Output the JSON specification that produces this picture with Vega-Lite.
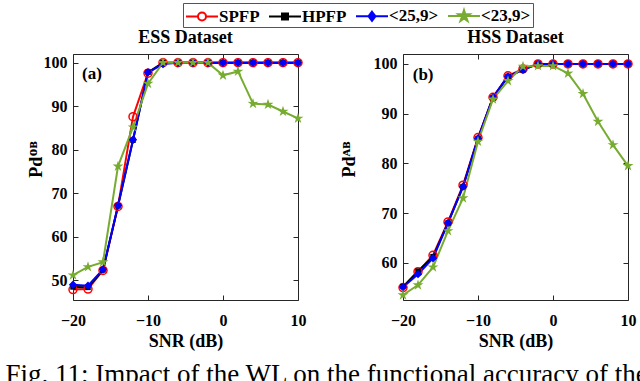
{
 "$schema": "https://vega.github.io/schema/vega-lite/v6.json",
 "background": "white",
 "padding": {"left": 5, "top": 2, "right": 0, "bottom": 0},
 "config": {
  "font": "Liberation Serif",
  "view": {"stroke": "#262626", "strokeWidth": 1},
  "axis": {"labelFont": "Liberation Serif", "labelFontSize": 16, "labelFontWeight": "bold", "labelColor": "black", "labelFlush": false, "titleFont": "Liberation Serif", "titleFontSize": 18, "titleFontWeight": "bold", "titleColor": "black", "domain": false, "grid": false, "tickColor": "#262626", "tickSize": -5},
  "title": {"font": "Liberation Serif", "fontSize": 18, "fontWeight": "bold", "color": "black", "offset": 7},
  "legend": {"orient": "none", "legendX": 110, "legendY": -51, "direction": "horizontal", "title": null, "labelFont": "Liberation Serif", "labelFontSize": 17, "labelFontWeight": "bold", "labelColor": "black", "symbolSize": 400, "symbolStrokeWidth": 2, "labelOffset": 12, "columnPadding": 5, "padding": 2, "strokeColor": "#555555", "fillColor": "white"}
 },
 "datasets": {
  "ess": [
   {"snr": -20, "s": "SPFP", "v": 47.9}, {"snr": -18, "s": "SPFP", "v": 48.0}, {"snr": -16, "s": "SPFP", "v": 52.3}, {"snr": -14, "s": "SPFP", "v": 67.0}, {"snr": -12, "s": "SPFP", "v": 87.6}, {"snr": -10, "s": "SPFP", "v": 97.6}, {"snr": -8, "s": "SPFP", "v": 100}, {"snr": -6, "s": "SPFP", "v": 100}, {"snr": -4, "s": "SPFP", "v": 100}, {"snr": -2, "s": "SPFP", "v": 100}, {"snr": 0, "s": "SPFP", "v": 100}, {"snr": 2, "s": "SPFP", "v": 100}, {"snr": 4, "s": "SPFP", "v": 100}, {"snr": 6, "s": "SPFP", "v": 100}, {"snr": 8, "s": "SPFP", "v": 100}, {"snr": 10, "s": "SPFP", "v": 100},
   {"snr": -20, "s": "HPFP", "v": 48.5}, {"snr": -18, "s": "HPFP", "v": 48.4}, {"snr": -16, "s": "HPFP", "v": 52.4}, {"snr": -14, "s": "HPFP", "v": 67.1}, {"snr": -12, "s": "HPFP", "v": 82.2}, {"snr": -10, "s": "HPFP", "v": 97.8}, {"snr": -8, "s": "HPFP", "v": 100}, {"snr": -6, "s": "HPFP", "v": 100}, {"snr": -4, "s": "HPFP", "v": 100}, {"snr": -2, "s": "HPFP", "v": 100}, {"snr": 0, "s": "HPFP", "v": 100}, {"snr": 2, "s": "HPFP", "v": 100}, {"snr": 4, "s": "HPFP", "v": 100}, {"snr": 6, "s": "HPFP", "v": 100}, {"snr": 8, "s": "HPFP", "v": 100}, {"snr": 10, "s": "HPFP", "v": 100},
   {"snr": -20, "s": "<25,9>", "v": 49.0}, {"snr": -18, "s": "<25,9>", "v": 48.8}, {"snr": -16, "s": "<25,9>", "v": 52.5}, {"snr": -14, "s": "<25,9>", "v": 67.2}, {"snr": -12, "s": "<25,9>", "v": 82.3}, {"snr": -10, "s": "<25,9>", "v": 97.8}, {"snr": -8, "s": "<25,9>", "v": 99.7}, {"snr": -6, "s": "<25,9>", "v": 100}, {"snr": -4, "s": "<25,9>", "v": 100}, {"snr": -2, "s": "<25,9>", "v": 100}, {"snr": 0, "s": "<25,9>", "v": 100}, {"snr": 2, "s": "<25,9>", "v": 100}, {"snr": 4, "s": "<25,9>", "v": 100}, {"snr": 6, "s": "<25,9>", "v": 100}, {"snr": 8, "s": "<25,9>", "v": 100}, {"snr": 10, "s": "<25,9>", "v": 100},
   {"snr": -20, "s": "<23,9>", "v": 51.2}, {"snr": -18, "s": "<23,9>", "v": 53.1}, {"snr": -16, "s": "<23,9>", "v": 54.2}, {"snr": -14, "s": "<23,9>", "v": 76.2}, {"snr": -12, "s": "<23,9>", "v": 85.2}, {"snr": -10, "s": "<23,9>", "v": 95.2}, {"snr": -8, "s": "<23,9>", "v": 100}, {"snr": -6, "s": "<23,9>", "v": 100}, {"snr": -4, "s": "<23,9>", "v": 100}, {"snr": -2, "s": "<23,9>", "v": 100}, {"snr": 0, "s": "<23,9>", "v": 97.1}, {"snr": 2, "s": "<23,9>", "v": 98.0}, {"snr": 4, "s": "<23,9>", "v": 90.6}, {"snr": 6, "s": "<23,9>", "v": 90.4}, {"snr": 8, "s": "<23,9>", "v": 88.8}, {"snr": 10, "s": "<23,9>", "v": 87.2}
  ],
  "hss": [
   {"snr": -20, "s": "SPFP", "v": 55.0}, {"snr": -18, "s": "SPFP", "v": 58.2}, {"snr": -16, "s": "SPFP", "v": 61.5}, {"snr": -14, "s": "SPFP", "v": 68.2}, {"snr": -12, "s": "SPFP", "v": 75.6}, {"snr": -10, "s": "SPFP", "v": 85.2}, {"snr": -8, "s": "SPFP", "v": 93.3}, {"snr": -6, "s": "SPFP", "v": 97.6}, {"snr": -4, "s": "SPFP", "v": 99.0}, {"snr": -2, "s": "SPFP", "v": 100}, {"snr": 0, "s": "SPFP", "v": 100}, {"snr": 2, "s": "SPFP", "v": 100}, {"snr": 4, "s": "SPFP", "v": 100}, {"snr": 6, "s": "SPFP", "v": 100}, {"snr": 8, "s": "SPFP", "v": 100}, {"snr": 10, "s": "SPFP", "v": 100},
   {"snr": -20, "s": "HPFP", "v": 55.2}, {"snr": -18, "s": "HPFP", "v": 58.3}, {"snr": -16, "s": "HPFP", "v": 61.2}, {"snr": -14, "s": "HPFP", "v": 68.0}, {"snr": -12, "s": "HPFP", "v": 75.3}, {"snr": -10, "s": "HPFP", "v": 85.0}, {"snr": -8, "s": "HPFP", "v": 93.2}, {"snr": -6, "s": "HPFP", "v": 97.5}, {"snr": -4, "s": "HPFP", "v": 98.8}, {"snr": -2, "s": "HPFP", "v": 100}, {"snr": 0, "s": "HPFP", "v": 100}, {"snr": 2, "s": "HPFP", "v": 100}, {"snr": 4, "s": "HPFP", "v": 100}, {"snr": 6, "s": "HPFP", "v": 100}, {"snr": 8, "s": "HPFP", "v": 100}, {"snr": 10, "s": "HPFP", "v": 100},
   {"snr": -20, "s": "<25,9>", "v": 55.1}, {"snr": -18, "s": "<25,9>", "v": 57.7}, {"snr": -16, "s": "<25,9>", "v": 60.9}, {"snr": -14, "s": "<25,9>", "v": 68.0}, {"snr": -12, "s": "<25,9>", "v": 75.3}, {"snr": -10, "s": "<25,9>", "v": 85.0}, {"snr": -8, "s": "<25,9>", "v": 93.3}, {"snr": -6, "s": "<25,9>", "v": 97.5}, {"snr": -4, "s": "<25,9>", "v": 98.8}, {"snr": -2, "s": "<25,9>", "v": 100}, {"snr": 0, "s": "<25,9>", "v": 100}, {"snr": 2, "s": "<25,9>", "v": 100}, {"snr": 4, "s": "<25,9>", "v": 100}, {"snr": 6, "s": "<25,9>", "v": 100}, {"snr": 8, "s": "<25,9>", "v": 100}, {"snr": 10, "s": "<25,9>", "v": 100},
   {"snr": -20, "s": "<23,9>", "v": 53.5}, {"snr": -18, "s": "<23,9>", "v": 55.5}, {"snr": -16, "s": "<23,9>", "v": 59.1}, {"snr": -14, "s": "<23,9>", "v": 66.4}, {"snr": -12, "s": "<23,9>", "v": 73.0}, {"snr": -10, "s": "<23,9>", "v": 84.4}, {"snr": -8, "s": "<23,9>", "v": 92.9}, {"snr": -6, "s": "<23,9>", "v": 96.6}, {"snr": -4, "s": "<23,9>", "v": 99.5}, {"snr": -2, "s": "<23,9>", "v": 99.6}, {"snr": 0, "s": "<23,9>", "v": 99.6}, {"snr": 2, "s": "<23,9>", "v": 98.1}, {"snr": 4, "s": "<23,9>", "v": 94.0}, {"snr": 6, "s": "<23,9>", "v": 88.4}, {"snr": 8, "s": "<23,9>", "v": 83.7}, {"snr": 10, "s": "<23,9>", "v": 79.5}
  ]
 },
 "title": {"text": "Fig. 11: Impact of the WL on the functional accuracy of the", "orient": "bottom", "anchor": "start", "fontSize": 27, "fontWeight": "normal", "font": "Liberation Serif", "color": "black", "offset": 11, "dx": -21},
 "spacing": 32,
 "resolve": {"scale": {"stroke": "shared"}, "legend": {"stroke": "shared"}},
 "hconcat": [
  {
   "title": "ESS Dataset",
   "width": 225, "height": 246,
   "data": {"name": "ess"},
   "resolve": {"axis": {"x": "independent", "y": "independent"}},
   "layer": [
    {
     "mark": {"type": "line", "strokeWidth": 2},
     "encoding": {
      "x": {"field": "snr", "type": "quantitative", "scale": {"domain": [-20, 10], "nice": false, "zero": false}, "axis": {"values": [-20, -10, 0, 10], "title": "SNR (dB)", "labelPadding": 17, "titlePadding": 4}},
      "y": {"field": "v", "type": "quantitative", "scale": {"domain": [45.5, 102], "nice": false, "zero": false}, "axis": {"values": [50, 60, 70, 80, 90, 100], "title": "Pdᴼᴮ", "labelPadding": 11, "titlePadding": -2, "titleY": 105}},
      "stroke": {"field": "s", "type": "nominal", "scale": {"domain": ["SPFP", "HPFP", "<25,9>", "<23,9>"], "range": ["#FF0000", "#000000", "#0000FF", "#77AC30"]},
       "legend": {
        "encode": {"symbols": {"update": {
         "shape": {"signal": "datum.value === 'SPFP' ? 'M-1,0H0.2M1,0H2.2M0.2,0A0.4,0.4 0 1,1 1,0A0.4,0.4 0 1,1 0.2,0Z' : datum.value === 'HPFP' ? 'M-1,0H2.2M0.3,-0.3H0.9V0.3H0.3Z' : datum.value === '<25,9>' ? 'M-1,0H2.2M0.6,-0.45L0.95,0L0.6,0.45L0.25,0Z' : 'M-1,0H2.2M0.6,-0.6L0.734,-0.1844L1.1707,-0.1854L0.8168,0.0704L0.9527,0.4854L0.6,0.228L0.2473,0.4854L0.3832,0.0704L0.0293,-0.1854L0.466,-0.1844Z'"},
         "fill": {"signal": "datum.value === 'SPFP' ? '#ffffff' : datum.value === 'HPFP' ? '#000000' : datum.value === '<25,9>' ? '#0000FF' : '#77AC30'"},
         "stroke": {"signal": "datum.value === 'SPFP' ? '#FF0000' : datum.value === 'HPFP' ? '#000000' : datum.value === '<25,9>' ? '#0000FF' : '#77AC30'"},
         "opacity": {"value": 1}}}}}}
     }
    },
    {
     "transform": [{"filter": "datum.s === 'SPFP'"}],
     "mark": {"type": "point", "shape": "circle", "size": 64, "filled": false, "color": "#FF0000", "strokeWidth": 1.5, "opacity": 1},
     "encoding": {"x": {"field": "snr", "type": "quantitative", "scale": {"domain": [-20, 10], "nice": false, "zero": false}, "axis": null}, "y": {"field": "v", "type": "quantitative", "scale": {"domain": [45.5, 102], "nice": false, "zero": false}, "axis": null}}
    },
    {
     "transform": [{"filter": "datum.s === 'HPFP'"}],
     "mark": {"type": "point", "shape": "square", "size": 30, "filled": true, "color": "#000000", "opacity": 1},
     "encoding": {"x": {"field": "snr", "type": "quantitative", "scale": {"domain": [-20, 10], "nice": false, "zero": false}, "axis": null}, "y": {"field": "v", "type": "quantitative", "scale": {"domain": [45.5, 102], "nice": false, "zero": false}, "axis": null}}
    },
    {
     "transform": [{"filter": "datum.s === '<25,9>'"}],
     "mark": {"type": "point", "shape": "diamond", "size": 70, "filled": true, "color": "#0000FF", "opacity": 1},
     "encoding": {"x": {"field": "snr", "type": "quantitative", "scale": {"domain": [-20, 10], "nice": false, "zero": false}, "axis": null}, "y": {"field": "v", "type": "quantitative", "scale": {"domain": [45.5, 102], "nice": false, "zero": false}, "axis": null}}
    },
    {
     "transform": [{"filter": "datum.s === '<23,9>'"}],
     "mark": {"type": "point", "shape": "M0,-1L0.2234,-0.3074L0.9511,-0.309L0.3614,0.1174L0.5878,0.809L0,0.38L-0.5878,0.809L-0.3614,0.1174L-0.9511,-0.309L-0.2234,-0.3074Z", "size": 130, "filled": true, "color": "#77AC30", "opacity": 1},
     "encoding": {"x": {"field": "snr", "type": "quantitative", "scale": {"domain": [-20, 10], "nice": false, "zero": false}, "axis": null}, "y": {"field": "v", "type": "quantitative", "scale": {"domain": [45.5, 102], "nice": false, "zero": false}, "axis": null}}
    },
    {
     "data": {"values": [{"label": "(a)"}]},
     "mark": {"type": "text", "align": "left", "baseline": "middle", "fontSize": 17, "fontWeight": "bold", "font": "Liberation Serif", "color": "black"},
     "encoding": {"x": {"datum": -18.8, "type": "quantitative", "scale": {"domain": [-20, 10], "nice": false, "zero": false}, "axis": null}, "y": {"datum": 97.3, "type": "quantitative", "scale": {"domain": [45.5, 102], "nice": false, "zero": false}, "axis": null}, "text": {"field": "label"}}
    },
    {
     "mark": {"type": "point", "opacity": 0},
     "encoding": {
      "x": {"field": "snr", "type": "quantitative", "scale": {"domain": [-20, 10], "nice": false, "zero": false}, "axis": {"orient": "top", "values": [-20, -10, 0, 10], "labels": false, "title": null}},
      "y": {"field": "v", "type": "quantitative", "scale": {"domain": [45.5, 102], "nice": false, "zero": false}, "axis": {"orient": "right", "values": [50, 60, 70, 80, 90, 100], "labels": false, "title": null}}
     }
    }
   ]
  },
  {
   "title": "HSS Dataset",
   "width": 225, "height": 246,
   "data": {"name": "hss"},
   "resolve": {"axis": {"x": "independent", "y": "independent"}},
   "layer": [
    {
     "mark": {"type": "line", "strokeWidth": 2},
     "encoding": {
      "x": {"field": "snr", "type": "quantitative", "scale": {"domain": [-20, 10], "nice": false, "zero": false}, "axis": {"values": [-20, -10, 0, 10], "title": "SNR (dB)", "labelPadding": 17, "titlePadding": 4}},
      "y": {"field": "v", "type": "quantitative", "scale": {"domain": [52.5, 102], "nice": false, "zero": false}, "axis": {"values": [60, 70, 80, 90, 100], "title": "Pdᴬᴮ", "labelPadding": 11, "titlePadding": 15, "titleY": 105}},
      "stroke": {"field": "s", "type": "nominal", "scale": {"domain": ["SPFP", "HPFP", "<25,9>", "<23,9>"], "range": ["#FF0000", "#000000", "#0000FF", "#77AC30"]},
       "legend": {
        "encode": {"symbols": {"update": {
         "shape": {"signal": "datum.value === 'SPFP' ? 'M-1,0H0.2M1,0H2.2M0.2,0A0.4,0.4 0 1,1 1,0A0.4,0.4 0 1,1 0.2,0Z' : datum.value === 'HPFP' ? 'M-1,0H2.2M0.3,-0.3H0.9V0.3H0.3Z' : datum.value === '<25,9>' ? 'M-1,0H2.2M0.6,-0.45L0.95,0L0.6,0.45L0.25,0Z' : 'M-1,0H2.2M0.6,-0.6L0.734,-0.1844L1.1707,-0.1854L0.8168,0.0704L0.9527,0.4854L0.6,0.228L0.2473,0.4854L0.3832,0.0704L0.0293,-0.1854L0.466,-0.1844Z'"},
         "fill": {"signal": "datum.value === 'SPFP' ? '#ffffff' : datum.value === 'HPFP' ? '#000000' : datum.value === '<25,9>' ? '#0000FF' : '#77AC30'"},
         "stroke": {"signal": "datum.value === 'SPFP' ? '#FF0000' : datum.value === 'HPFP' ? '#000000' : datum.value === '<25,9>' ? '#0000FF' : '#77AC30'"},
         "opacity": {"value": 1}}}}}}
     }
    },
    {
     "transform": [{"filter": "datum.s === 'SPFP'"}],
     "mark": {"type": "point", "shape": "circle", "size": 64, "filled": false, "color": "#FF0000", "strokeWidth": 1.5, "opacity": 1},
     "encoding": {"x": {"field": "snr", "type": "quantitative", "scale": {"domain": [-20, 10], "nice": false, "zero": false}, "axis": null}, "y": {"field": "v", "type": "quantitative", "scale": {"domain": [52.5, 102], "nice": false, "zero": false}, "axis": null}}
    },
    {
     "transform": [{"filter": "datum.s === 'HPFP'"}],
     "mark": {"type": "point", "shape": "square", "size": 30, "filled": true, "color": "#000000", "opacity": 1},
     "encoding": {"x": {"field": "snr", "type": "quantitative", "scale": {"domain": [-20, 10], "nice": false, "zero": false}, "axis": null}, "y": {"field": "v", "type": "quantitative", "scale": {"domain": [52.5, 102], "nice": false, "zero": false}, "axis": null}}
    },
    {
     "transform": [{"filter": "datum.s === '<25,9>'"}],
     "mark": {"type": "point", "shape": "diamond", "size": 70, "filled": true, "color": "#0000FF", "opacity": 1},
     "encoding": {"x": {"field": "snr", "type": "quantitative", "scale": {"domain": [-20, 10], "nice": false, "zero": false}, "axis": null}, "y": {"field": "v", "type": "quantitative", "scale": {"domain": [52.5, 102], "nice": false, "zero": false}, "axis": null}}
    },
    {
     "transform": [{"filter": "datum.s === '<23,9>'"}],
     "mark": {"type": "point", "shape": "M0,-1L0.2234,-0.3074L0.9511,-0.309L0.3614,0.1174L0.5878,0.809L0,0.38L-0.5878,0.809L-0.3614,0.1174L-0.9511,-0.309L-0.2234,-0.3074Z", "size": 130, "filled": true, "color": "#77AC30", "opacity": 1},
     "encoding": {"x": {"field": "snr", "type": "quantitative", "scale": {"domain": [-20, 10], "nice": false, "zero": false}, "axis": null}, "y": {"field": "v", "type": "quantitative", "scale": {"domain": [52.5, 102], "nice": false, "zero": false}, "axis": null}}
    },
    {
     "data": {"values": [{"label": "(b)"}]},
     "mark": {"type": "text", "align": "left", "baseline": "middle", "fontSize": 17, "fontWeight": "bold", "font": "Liberation Serif", "color": "black"},
     "encoding": {"x": {"datum": -18.7, "type": "quantitative", "scale": {"domain": [-20, 10], "nice": false, "zero": false}, "axis": null}, "y": {"datum": 97.8, "type": "quantitative", "scale": {"domain": [52.5, 102], "nice": false, "zero": false}, "axis": null}, "text": {"field": "label"}}
    },
    {
     "mark": {"type": "point", "opacity": 0},
     "encoding": {
      "x": {"field": "snr", "type": "quantitative", "scale": {"domain": [-20, 10], "nice": false, "zero": false}, "axis": {"orient": "top", "values": [-20, -10, 0, 10], "labels": false, "title": null}},
      "y": {"field": "v", "type": "quantitative", "scale": {"domain": [52.5, 102], "nice": false, "zero": false}, "axis": {"orient": "right", "values": [60, 70, 80, 90, 100], "labels": false, "title": null}}
     }
    }
   ]
  }
 ]
}
